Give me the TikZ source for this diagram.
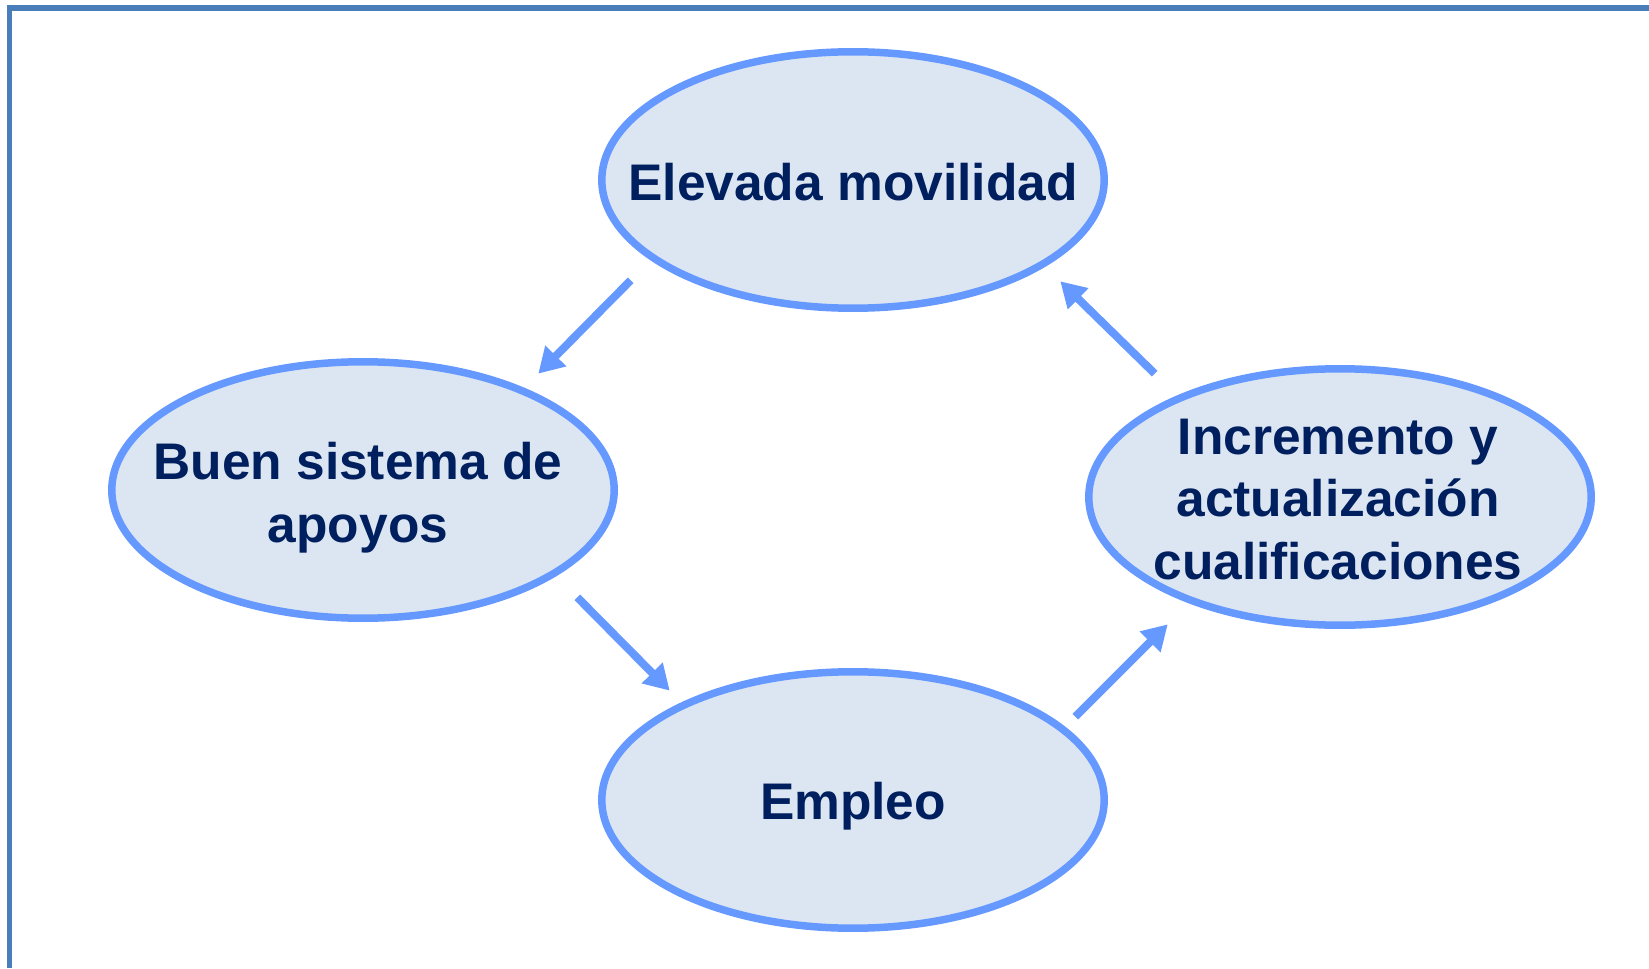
\documentclass[tikz,border=0pt]{standalone}
\usepackage{fontspec}
\setmainfont[Ligatures=NoCommon]{Liberation Sans}
\usepackage{tikz}
\usetikzlibrary{arrows.meta}
\usetikzlibrary{positioning}
\usetikzlibrary{shapes}
\definecolor{FrameBlue}{RGB}{74,126,187}
\definecolor{RingBlue}{RGB}{102,153,255}
\definecolor{PaleBlue}{RGB}{220,230,242}
\definecolor{DeepNavy}{RGB}{0,31,95}

\begin{document}
\begin{tikzpicture}[
 x=0.02cm, y=0.02cm,
 oval/.style = {draw=RingBlue, fill=PaleBlue, ellipse, line width=0.15cm,
                minimum width=10.05cm, minimum height=5.13cm, inner sep=0pt},
 label/.style = {align=center, text=DeepNavy, font=\bfseries\fontsize{29.3}{35.6}\selectfont},
 flow/.style = {draw=RingBlue, line width=0.16cm,
                -{Triangle[length=0.5cm, width=0.56cm]}},
                        ]
    \useasboundingbox (0,0) rectangle (1649,968);
    \draw [FrameBlue, line width=0.12cm] (9.5,0) |- (1649,959.5);

    \node [oval] at (853,788) (mov) {};
    \node [label, yshift=-0.05cm] at (mov) {Elevada movilidad};
    \node [oval] at (363,478) (apo) {};
    \node [label, xshift=-0.1cm, yshift=-0.15cm] at (apo) {Buen sistema de\\apoyos};
    \node [oval] at (853,168) (emp) {};
    \node [label, yshift=-0.13cm] at (emp) {Empleo};
    \node [oval] at (1340,471) (cua) {};
    \node [label, xshift=-0.04cm, yshift=-0.05cm] at (cua) {Incremento y\\actualización\\cualificaciones};

    \coordinate (s1) at ([shift={(-42,-7)}]mov.south west);
    \coordinate (e1) at ([shift={(-5,23)}]apo.north east);
    \coordinate (s2) at ([shift={(34,-14)}]apo.south east);
    \coordinate (e2) at ([shift={(-3,16)}]emp.north west);
    \coordinate (s3) at ([shift={(42,-10)}]emp.north east);
    \coordinate (e3) at ([shift={(8,-34)}]cua.south west);
    \coordinate (s4) at ([shift={(-5,30)}]cua.north west);
    \coordinate (e4) at ([shift={(27,-8)}]mov.south east);

    \draw [flow] (s1) -- (e1);
    \draw [flow] (s2) -- (e2);
    \draw [flow] (s3) -- (e3);
    \draw [flow] (s4) -- (e4);
\end{tikzpicture}
\end{document}
